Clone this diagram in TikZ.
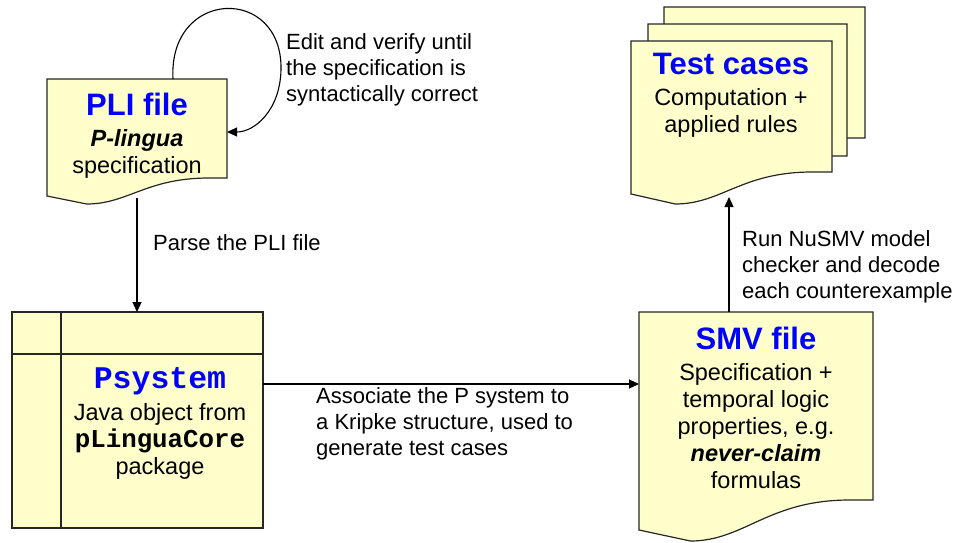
\documentclass[tikz,border=0pt]{standalone}
\usepackage{fontspec}
\setmainfont{Liberation Sans}
\setmonofont{Liberation Mono}
\usetikzlibrary{arrows.meta,calc}
\definecolor{docyellow}{HTML}{FFFFCC}
\definecolor{titleblue}{HTML}{0000FF}

\tikzset{
  doc/.style={draw=black!85, fill=docyellow, line width=1.2pt},
  flow/.style={line width=1.1pt, -{Triangle[length=10pt,width=9pt]}},
  lbl/.style={align=left, anchor=base west, inner sep=0pt, font=\fontsize{22}{26}\selectfont},
  boxtxt/.style={align=center, anchor=base, inner sep=0pt, font=\fontsize{23.5}{27}\selectfont},
}
\newcommand{\doctitle}[1]{{\fontsize{31}{31}\selectfont\bfseries\color{titleblue}#1}}
% document shape: left, top, right, right end, left end, dip
\newcommand{\docshape}[6]{%
  \draw[doc] (#1,#2) -- (#3,#2) -- (#3,#4) -- ({#3-0.1*(#3-#1)},#4)
    .. controls ({#1+0.55*(#3-#1)},#4) and ({#1+0.45*(#3-#1)},#6) .. ({#1+0.22*(#3-#1)},#6)
    -- (#1,#5) -- cycle;%
}

\begin{document}
\begin{tikzpicture}[x=1pt,y=-1pt]
    \useasboundingbox (0,0) rectangle (954,542);

    % PLI file
    \docshape{47}{79}{227}{178}{196}{204}
    \node[boxtxt] (pli) at (137,173) {\doctitle{PLI file}\\[4pt]
        \textbf{\textit{P-lingua}}\\ specification};

    % Psystem object
    \draw[doc] (12,312) rectangle (263,528);
    \draw[doc] (61,312) -- (61,528);
    \draw[doc] (12,354) -- (263,354);
    \node[boxtxt] (psys) at (160,474) {{\fontsize{31.5}{31}\selectfont\ttfamily\bfseries\color{titleblue}Psystem}\\[5pt]
        Java object from\\ {\fontsize{25.8}{27}\selectfont\ttfamily\bfseries pLinguaCore}\\ package};

    % SMV file
    \docshape{639}{312}{873}{500}{530}{541}
    \node[boxtxt] (smv) at (756,488) {\doctitle{SMV file}\\[4pt]
        Specification +\\ temporal logic\\ properties, e.g.\\
        \textbf{\textit{never-claim}}\\ formulas};

    % Test cases (three sheets)
    \docshape{664}{7}{865}{138}{160}{170}
    \docshape{648}{24}{847}{156}{177}{187}
    \docshape{631}{41}{832}{172}{194}{204}
    \node[boxtxt] (tests) at (731,132) {\doctitle{Test cases}\\[4pt]
        Computation +\\ applied rules};

    % connection points
    \coordinate (pli-top) at (173,79);
    \coordinate (pli-right) at (227,132);
    \coordinate (pli-bot) at (137,198);
    \coordinate (psys-top) at (137,312);
    \coordinate (psys-right) at (263,384);
    \coordinate (smv-left) at (639,384);
    \coordinate (smv-top) at (729,312);
    \coordinate (tests-bot) at (729,197);

    % connectors
    \draw[flow] (pli-top) .. controls (168,-12) and (283,-15) .. (281,70)
        .. controls (280,110) and (255,132) .. (pli-right);
    \draw[flow] (pli-bot) -- (psys-top);
    \draw[flow] (psys-right) -- (smv-left);
    \draw[flow] (smv-top) -- (tests-bot);

    % labels
    \node[lbl] (edit) at (286,101) {Edit and verify until\\ the specification is\\ syntactically correct};
    \node[lbl] (parse) at (153,250) {Parse the PLI file};
    \node[lbl] (assoc) at (316,455) {Associate the P system to\\ a Kripke structure, used to\\ generate test cases};
    \node[lbl] (run) at (742,298) {Run NuSMV model\\ checker and decode\\ each counterexample};
\end{tikzpicture}
\end{document}
